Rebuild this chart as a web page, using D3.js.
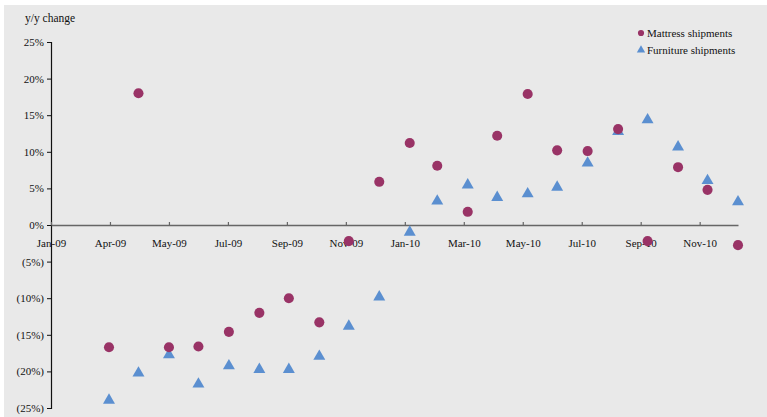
<!DOCTYPE html>
<html>
<head>
<meta charset="utf-8">
<script src="https://cdn.jsdelivr.net/npm/d3@7"></script>
<style>
  html, body { margin: 0; padding: 0; background: #ffffff; }
  svg { display: block; }
  text { font-family: "Liberation Serif", "DejaVu Serif", serif; fill: #111; }
</style>
</head>
<body>
<svg id="chart" width="767" height="417"></svg>
<script>
// Month-end observation dates
const months = [
  "2009-03-31","2009-04-30","2009-05-31","2009-06-30","2009-07-31","2009-08-31",
  "2009-09-30","2009-10-31","2009-11-30","2009-12-31","2010-01-31","2010-02-28",
  "2010-03-31","2010-04-30","2010-05-31","2010-06-30","2010-07-31","2010-08-31",
  "2010-09-30","2010-10-31","2010-11-30","2010-12-31"
];
// Year-over-year change, percent
const mattress = [-16.7, 18.0, -16.7, -16.6, -14.6, -12.0, -10.0, -13.3, -2.2, 5.9, 11.2, 8.1,
                  1.8, 12.2, 17.9, 10.2, 10.1, 13.1, -2.2, 7.9, 4.8, -2.75];
const furniture = [-23.7, -20.0, -17.5, -21.5, -19.0, -19.5, -19.5, -17.7, -13.6, -9.6, -0.75, 3.5,
                   5.7, 4.0, 4.5, 5.4, 8.7, 13.0, 14.6, 10.9, 6.3, 3.4];
const seriesNames = ["Mattress shipments", "Furniture shipments"];
const yTicks = [25, 20, 15, 10, 5, 0, -5, -10, -15, -20, -25];
// Axis runs on a day scale with a major unit of 60 days
const axisStart = "2009-01-31";
const axisEnd = "2010-12-31";
const majorUnitDays = 60;
const tickCount = 12;

const parse = d3.utcParse("%Y-%m-%d");
const svg = d3.select("#chart");

// Plot backdrop
svg.append("rect").attr("x", 4).attr("y", 5).attr("width", 763).attr("height", 412).attr("fill", "#e9e9e9");

const x = d3.scaleUtc().domain([parse(axisStart), parse(axisEnd)]).range([51, 738]);
const y = d3.scaleLinear().domain([-25, 25]).range([408, 42]);

const pctFmt = v => v < 0 ? "(" + Math.abs(v) + "%)" : v + "%";

// Y axis
const yAxis = svg.append("g").attr("transform", "translate(51,0)")
  .call(d3.axisLeft(y).tickValues(yTicks).tickFormat(pctFmt).tickSize(4).tickPadding(3));
yAxis.select(".domain").attr("stroke", "#111").attr("stroke-width", 1.2);
yAxis.selectAll(".tick line").attr("stroke", "#111");
yAxis.selectAll("text").style("font-size", "11px").attr("fill", "#111");

// X axis through zero
const xTicks = d3.range(tickCount).map(i => d3.utcDay.offset(parse(axisStart), i * majorUnitDays));
const xAxis = svg.append("g").attr("transform", `translate(0,${y(0)})`)
  .call(d3.axisBottom(x).tickValues(xTicks).tickFormat(d3.utcFormat("%b-%y")).tickSizeInner(-3).tickSizeOuter(0).tickPadding(14));
xAxis.select(".domain").attr("stroke", "#666").attr("stroke-width", 1.6);
xAxis.selectAll(".tick line").attr("stroke", "#666").attr("stroke-width", 1.2);
xAxis.selectAll("text").style("font-size", "11px").attr("fill", "#111");

// Axis title
svg.append("text").attr("x", 25).attr("y", 22).style("font-size", "11.5px").text("y/y change");

const dates = months.map(parse);
const circle = d3.symbol().type(d3.symbolCircle).size(80);
const triSize = 62;
const tri = d3.symbol().type(d3.symbolTriangle).size(triSize);
// d3 centres triangles on the centroid; shift so the marker box is centred on the value
const triHeight = Math.sqrt(triSize * Math.sqrt(3));
const triShift = triHeight / 6;

// Furniture series (triangles)
svg.append("g").selectAll("path").data(furniture).join("path")
  .attr("d", tri)
  .attr("transform", (d, i) => `translate(${x(dates[i])},${y(d) + triShift})`)
  .attr("fill", "#5b8fd0");

// Mattress series (circles)
svg.append("g").selectAll("path").data(mattress).join("path")
  .attr("d", circle)
  .attr("transform", (d, i) => `translate(${x(dates[i])},${y(d)})`)
  .attr("fill", "#993366");

// Legend
const legend = svg.append("g");
legend.append("path").attr("d", d3.symbol().type(d3.symbolCircle).size(30))
  .attr("transform", "translate(641,33)").attr("fill", "#993366");
legend.append("text").attr("x", 647).attr("y", 37).style("font-size", "11px").text(seriesNames[0]);
legend.append("path").attr("d", d3.symbol().type(d3.symbolTriangle).size(30))
  .attr("transform", "translate(641,50)").attr("fill", "#5b8fd0");
legend.append("text").attr("x", 647).attr("y", 54).style("font-size", "11px").text(seriesNames[1]);
</script>
</body>
</html>
